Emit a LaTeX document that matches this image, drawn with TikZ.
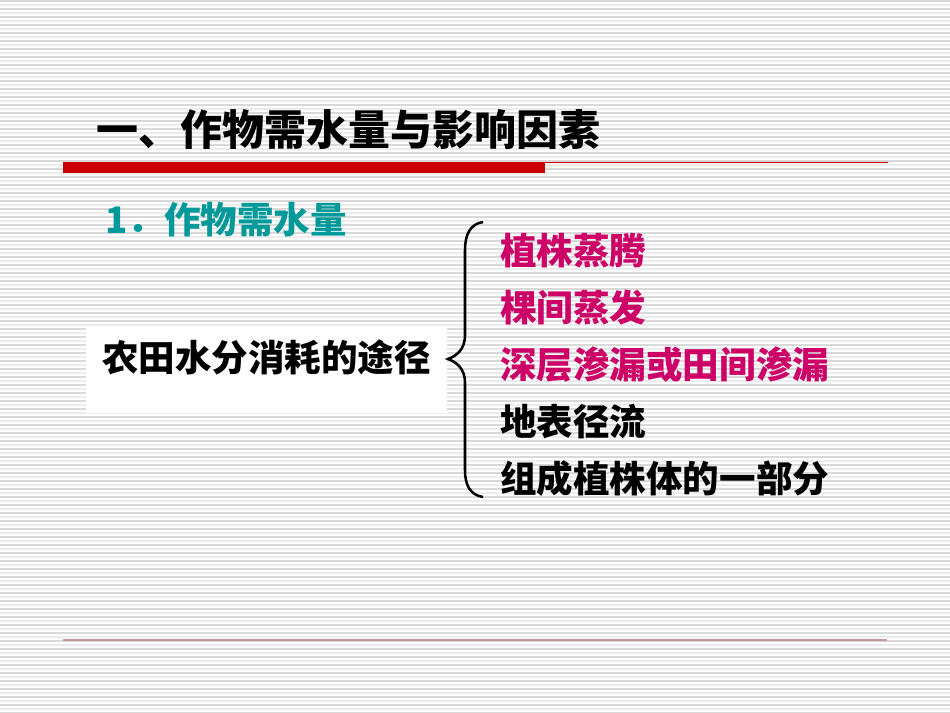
\documentclass[tikz,border=0pt]{standalone}
\usepackage{fontspec}
\setmainfont{Noto Sans CJK SC}
\definecolor{barred}{HTML}{CC0000}
\definecolor{subteal}{HTML}{009999}
\definecolor{itempink}{HTML}{CC0066}

\begin{document}
\begin{tikzpicture}[x=0.75pt, y=-0.75pt, every node/.style={inner sep=0pt, anchor=west}, big/.style={font=\fontsize{31.5}{36}\selectfont\bfseries}, item/.style={font=\fontsize{27.4}{32}\selectfont\bfseries}, pink/.style={item, text=itempink}]
	\useasboundingbox (0,0) rectangle (950,713);
	\foreach \y in {1,9,...,713} {\draw[gray!30, line width=0.8pt] (0,\y) -- (950,\y); \draw[gray!15, line width=0.8pt] (0,\y+4) -- (950,\y+4);}
	\node[big] (title) at (96,130) {一、作物需水量与影响因素};
	\fill[barred] (63,162) rectangle (545,173);
	\draw[barred, line width=0.8pt] (545,162.4) -- (888,162.4);
	\draw[barred!35!gray!60, line width=0.9pt] (63,640) -- (887,640);
	\node[item, text=subteal] (sub) at (105,220) {1．作物需水量};
	\fill[white] (86,326) rectangle (447,413);
	\node[item] (way) at (102,357) {农田水分消耗的途径};
	\draw[line width=1.9pt] (483,222) .. controls (470,224) and (465,235) .. (465,250) -- (465,335) .. controls (465,350) and (456,356) .. (448,359) .. controls (456,362) and (465,368) .. (465,383) -- (465,470) .. controls (465,485) and (470,495) .. (483,497);
	\node[pink] (i1) at (500,251) {植株蒸腾};
	\node[pink] (i2) at (500,308) {棵间蒸发};
	\node[pink] (i3) at (500,365) {深层渗漏或田间渗漏};
	\node[item] (i4) at (500,422) {地表径流};
	\node[item] (i5) at (500,479) {组成植株体的一部分};
\end{tikzpicture}
\end{document}
